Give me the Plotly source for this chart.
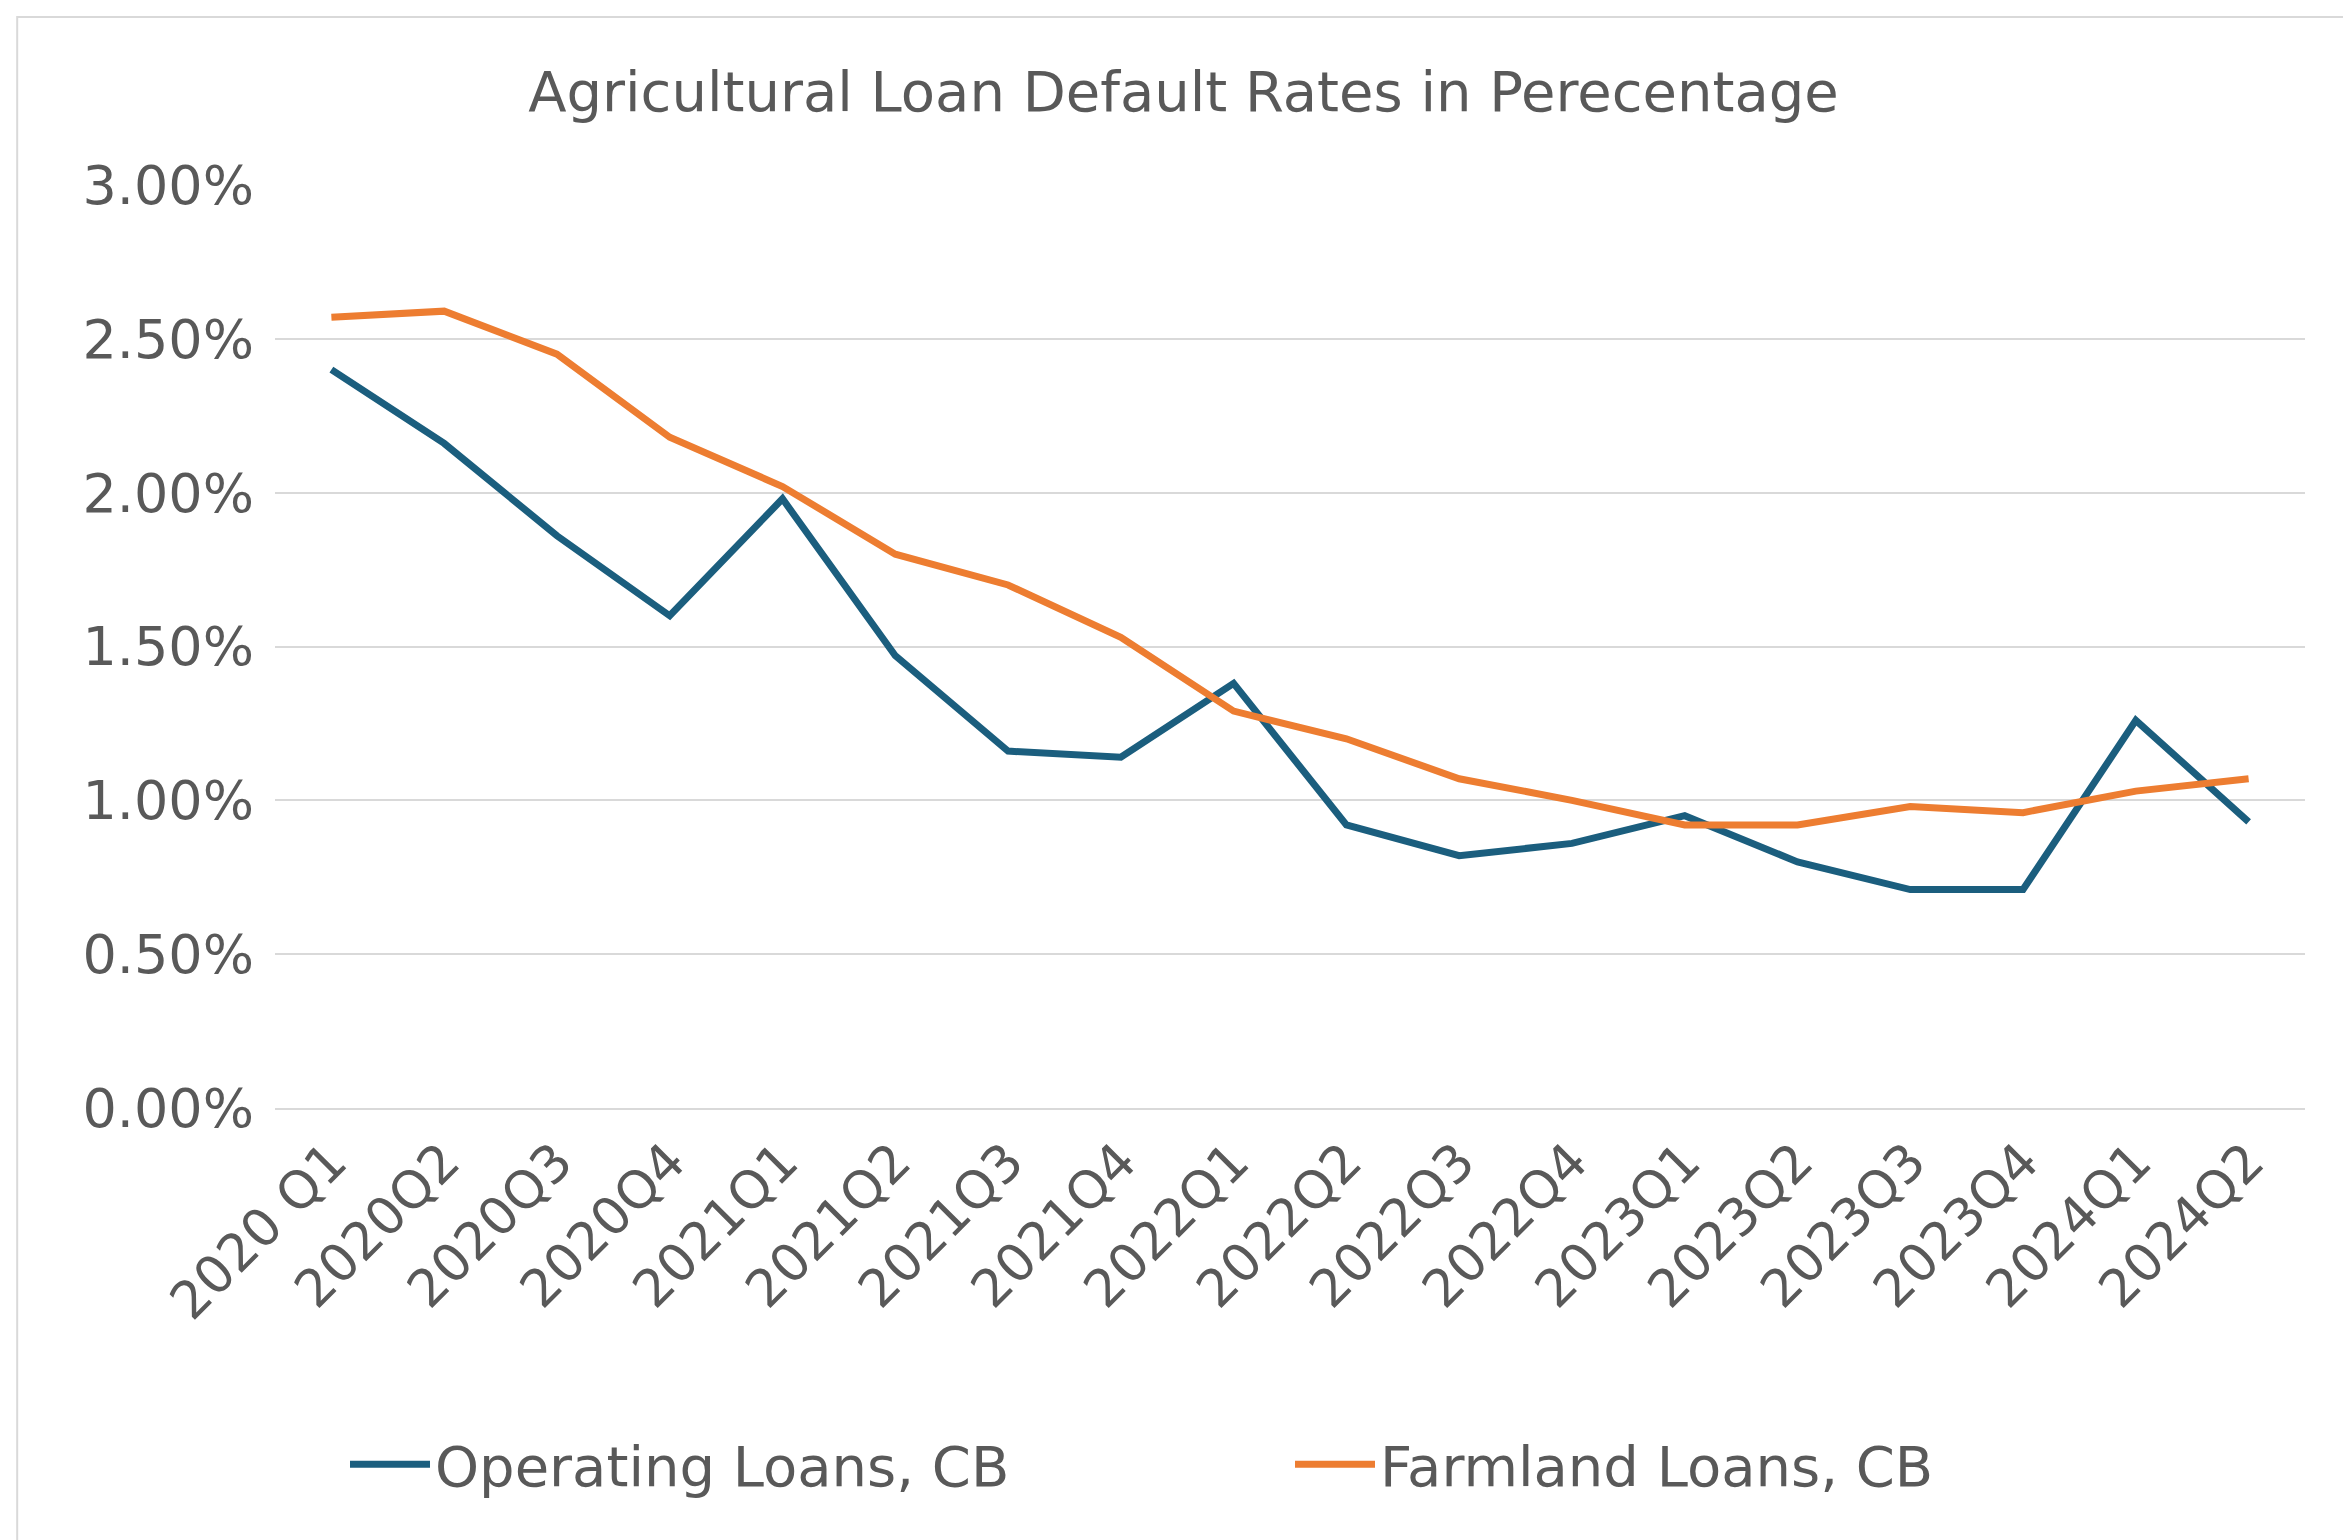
import plotly.graph_objects as go

quarters = ["2020 Q1", "2020Q2", "2020Q3", "2020Q4", "2021Q1", "2021Q2", "2021Q3", "2021Q4",
            "2022Q1", "2022Q2", "2022Q3", "2022Q4", "2023Q1", "2023Q2", "2023Q3", "2023Q4",
            "2024Q1", "2024Q2"]
operating = [2.40, 2.16, 1.86, 1.60, 1.98, 1.47, 1.16, 1.14, 1.38, 0.92, 0.82, 0.86,
             0.95, 0.80, 0.71, 0.71, 1.26, 0.93]
farmland = [2.57, 2.59, 2.45, 2.18, 2.02, 1.80, 1.70, 1.53, 1.29, 1.20, 1.07, 1.00,
            0.92, 0.92, 0.98, 0.96, 1.03, 1.07]

fnt = "DejaVu Sans, sans-serif"
fig = go.Figure()
fig.add_trace(go.Scatter(x=quarters, y=operating, mode="lines", name="Operating Loans, CB",
                         line=dict(color="#1B5E7E", width=7)))
fig.add_trace(go.Scatter(x=quarters, y=farmland, mode="lines", name="Farmland Loans, CB",
                         line=dict(color="#ED7D31", width=7)))

fig.update_layout(
    width=2351, height=1540, paper_bgcolor="white", plot_bgcolor="white",
    margin=dict(l=267, r=54, t=177, b=440),
    font=dict(family=fnt, color="#595959"),
    title=dict(text="Agricultural Loan Default Rates in Perecentage", x=0.5, xanchor="center",
               y=0.946, yanchor="middle", font=dict(size=56, color="#595959")),
    legend=dict(orientation="h", x=0.5, xanchor="center", y=-0.386, yanchor="middle",
                font=dict(size=56, color="#595959"), itemwidth=80, entrywidthmode="pixels",
                entrywidth=850),
    xaxis=dict(tickangle=-45, tickfont=dict(size=52), showgrid=False, showline=True,
               linecolor="#D9D9D9", linewidth=2, ticks="", range=[-0.5, 17.5]),
    yaxis=dict(range=[0, 3.0], dtick=0.5, ticksuffix="%", tickformat=".2f",
               tickfont=dict(size=54), gridcolor="#D9D9D9", gridwidth=2, zeroline=False,
               ticklabelstandoff=20),
    shapes=[dict(type="rect", xref="paper", yref="paper", x0=-0.127, x1=1.021, y0=-0.473, y1=1.182,
                 line=dict(color="#D9D9D9", width=2))],
)
fig.write_html("out.html")
